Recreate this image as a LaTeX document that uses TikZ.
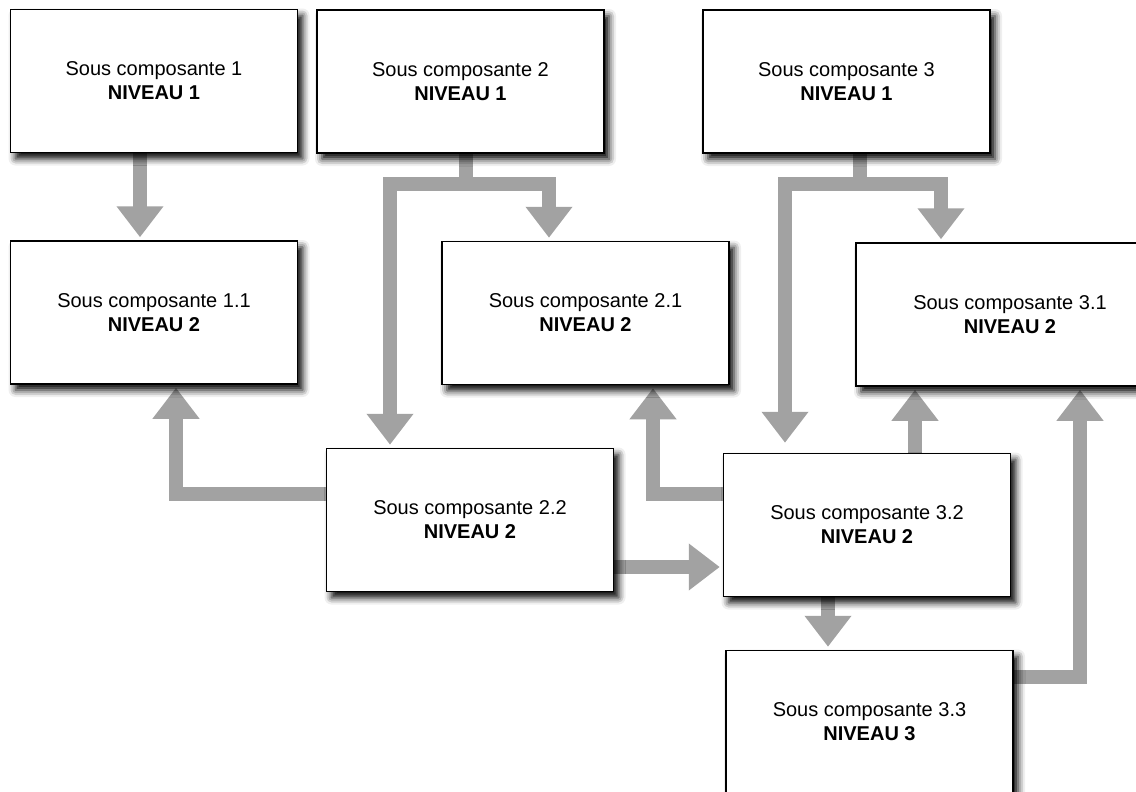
\documentclass[tikz,border=0pt]{standalone}
\usepackage{fontspec}
\setmainfont{Liberation Sans}
\usetikzlibrary{arrows.meta,calc,shadows.blur,backgrounds}
\definecolor{flowgray}{HTML}{A2A2A2}
\tikzset{
  box/.style={draw=black, line width=1.5pt, fill=white, rectangle,
    minimum width=287pt, minimum height=143pt, inner sep=0pt,
    align=center, font=\fontsize{20}{24}\selectfont,
    blur shadow={shadow xshift=5pt, shadow yshift=-6pt,
      shadow blur radius=7pt, shadow opacity=100}},
  flow/.style={draw=flowgray, fill=flowgray, line width=14.5pt, line join=miter,
    -{Triangle[width=45pt,length=31pt]}, shorten >=3pt}
}
\begin{document}
\begin{tikzpicture}[x=1pt,y=-1pt]
      \useasboundingbox (0,0) rectangle (1136,792);
      \draw
        (154,81) node[box] (s1) {Sous composante 1\\\textbf{NIVEAU 1}}
        (460.5,81.5) node[box] (s2) {Sous composante 2\\\textbf{NIVEAU 1}}
        (846.5,81.5) node[box] (s3) {Sous composante 3\\\textbf{NIVEAU 1}}
        (154,312.5) node[box] (s11) {Sous composante 1.1\\\textbf{NIVEAU 2}}
        (585.5,313) node[box] (s21) {Sous composante 2.1\\\textbf{NIVEAU 2}}
        (1010,314.5) node[box, minimum width=308pt] (s31) {Sous composante 3.1\\\textbf{NIVEAU 2}}
        (470,520) node[box] (s22) {Sous composante 2.2\\\textbf{NIVEAU 2}}
        (867,525) node[box] (s32) {Sous composante 3.2\\\textbf{NIVEAU 2}}
        (869.5,722) node[box] (s33) {Sous composante 3.3\\\textbf{NIVEAU 3}};
      \coordinate (c1) at ($(s1.south)+(-14,0)$);
      \coordinate (c6) at ($(s32.north)+(48,0)$);
      \coordinate (c7) at ($(s22.east)+(0,47)$);
      \coordinate (c8) at ($(s32.south)+(-39,0)$);
      \begin{scope}[on background layer={flow}]
        \draw (c1) to (c1 |- s11.north);
        \draw ($(s2.south)+(5.5,0)$) -- ++(0,30) -| ($(s22.north)+(-80,0)$);
        \draw ($(s2.south)+(5.5,30)$) -| ($(s21.north)+(-36.5,0)$);
        \draw ($(s3.south)+(13.5,0)$) -- ++(0,30) -| ($(s31.north)+(-69,0)$);
        \draw[shorten >=10pt] ($(s3.south)+(13.5,30)$) -| ($(s32.north)+(-82,0)$);
        \draw ($(s22.west)+(0,-26)$) -| ($(s11.south)+(22,0)$);
        \draw ($(s32.west)+(0,-31)$) -| ($(s21.south)+(67.5,0)$);
        \draw (c6) to (c6 |- s31.south);
        \draw (c7) to (c7 -| s32.west);
        \draw (c8) to (c8 |- s33.north);
        \draw ($(s33.east)+(0,-45)$) -| ($(s31.south)+(70,0)$);
      \end{scope}
    \end{tikzpicture}
\end{document}
